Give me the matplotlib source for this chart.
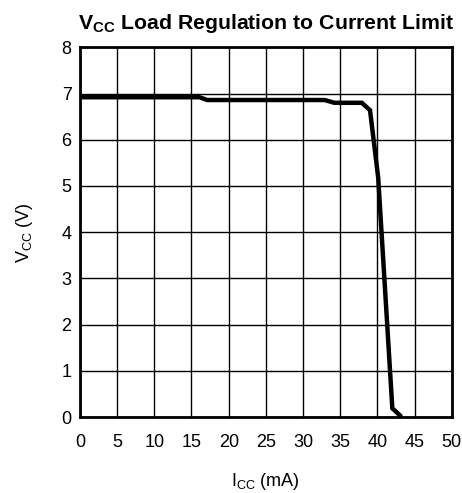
import matplotlib
matplotlib.use("Agg")
import matplotlib.pyplot as plt

# I_CC (mA) vs V_CC (V)
icc = [0, 16.1, 17.1, 32.9, 34.2, 37.9, 39.0, 40.1, 42.0, 43.0]
vcc = [6.92, 6.92, 6.86, 6.86, 6.80, 6.80, 6.64, 5.18, 0.19, 0.04]

x_ticks = list(range(0, 51, 5))
y_ticks = list(range(0, 9))

plt.rcParams["font.family"] = ["Liberation Sans", "DejaVu Sans"]
plt.rcParams["mathtext.fontset"] = "custom"
plt.rcParams["mathtext.rm"] = "Liberation Sans"

fig = plt.figure(figsize=(4.62, 4.93), dpi=100)
ax = fig.add_axes([0.173, 0.154, 0.805, 0.750])

ax.plot(icc, vcc, color="black", linewidth=3.2, solid_joinstyle="miter")

ax.set_xlim(0, 50)
ax.set_ylim(0, 8)
ax.set_xticks(x_ticks)
ax.set_yticks(y_ticks)
ax.tick_params(length=0, labelsize=13)
ax.tick_params(axis="x", pad=12.5)
ax.tick_params(axis="y", pad=6)
ax.grid(True, color="black", linewidth=1)
for s in ax.spines.values():
    s.set_linewidth(2)

ax.set_xlabel(r"I$_{\mathregular{CC}}$ (mA)", fontsize=13, labelpad=14)
ax.set_ylabel(r"V$_{\mathregular{CC}}$ (V)", fontsize=13, labelpad=19)
ax.set_title(r"V$_{\mathregular{CC}}$ Load Regulation to Current Limit",
             fontsize=15.3, fontweight="bold", pad=13)

fig.savefig("out.png", dpi=100)
